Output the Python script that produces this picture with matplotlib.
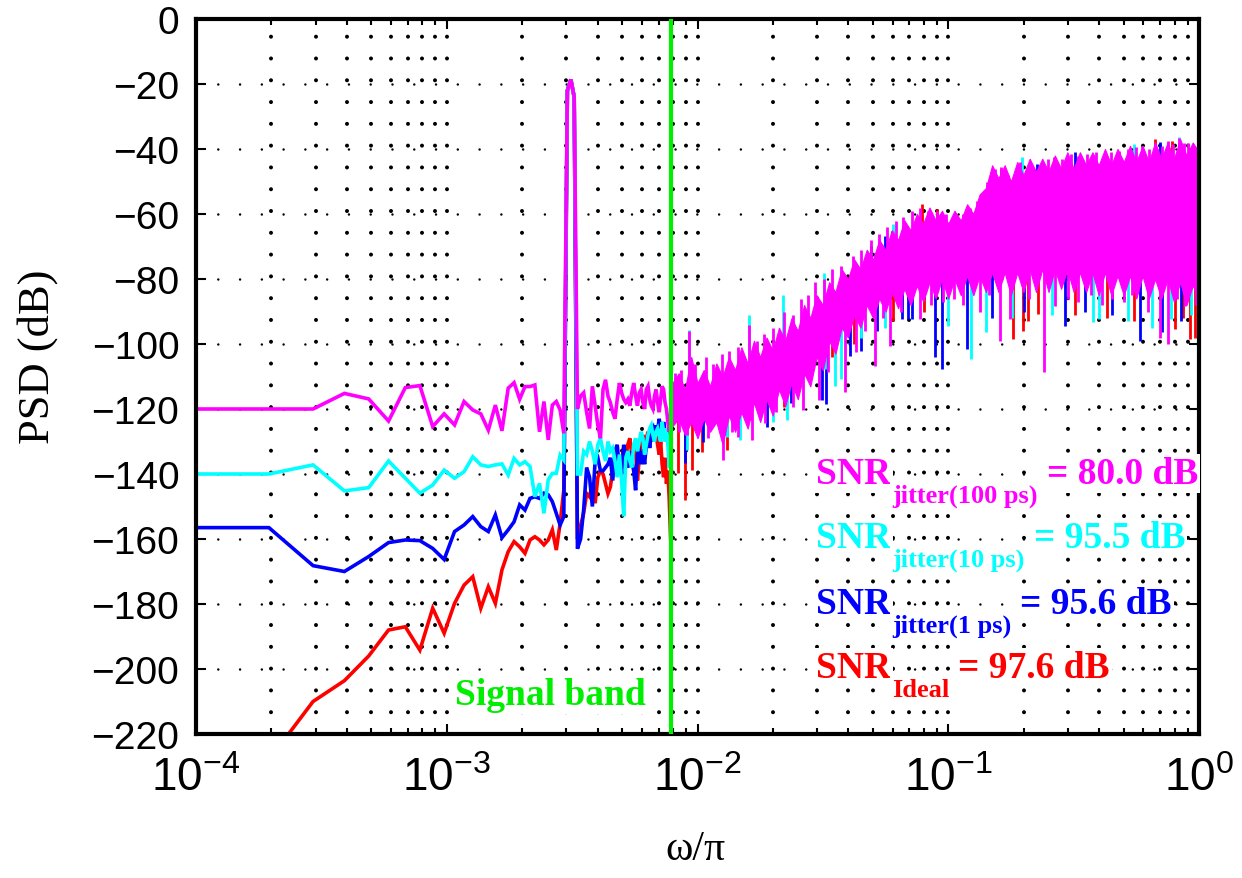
import numpy as np
import matplotlib
matplotlib.use("Agg")
import matplotlib.pyplot as plt
from matplotlib.ticker import LogLocator, FixedLocator, NullFormatter

# ---------------- data ----------------
N_BINS = 10240                      # omega/pi resolution of the FFT grid
k_low = np.arange(1, 81)
freq_low = k_low / N_BINS           # bins up to the signal band edge

psd_100ps_low = [-120, -120, -120, -115.2, -116.9, -123.7, -113.4, -112.8, -125.4, -121.5,
                 -124.9, -117.7, -120.3, -121.5, -126.5, -118.8, -126.7, -113.6, -111.9, -117.0,
                 -113.1, -113.1, -112.6, -127.0, -117.7, -129.5, -118.8, -117.7, -120.3, -127.5,
                 -22, -18.6, -24, -120, -116, -115, -121, -126, -113, -119,
                 -125, -129, -114, -111, -116, -118, -121, -123, -117, -112,
                 -115, -117, -118, -117, -119, -115, -112, -116, -119, -115,
                 -114, -118, -120, -114, -113, -117, -119, -120, -116, -114,
                 -118, -121, -117, -113, -114, -118, -120, -124, -127, -122]
psd_10ps_low = [-140, -140, -137.2, -145.2, -144.2, -136.0, -141.3, -145.9, -143.4, -138.8,
                -141.3, -139.3, -134.7, -137.2, -137.7, -137.2, -136.9, -140.3, -135.2, -137.2,
                -136.2, -137.7, -147.0, -142.9, -152.1, -141.8, -139.8, -139.8, -134.2, -135.7,
                -22, -18.6, -24, -140, -140, -133, -134, -130, -133, -137,
                -131, -129, -133, -136, -130, -133, -132, -136, -141, -134,
                -142, -153, -135, -133, -136, -138, -131, -129, -133, -130,
                -127, -129, -134, -131, -128, -126, -125, -128, -130, -127,
                -126, -128, -130, -124, -127, -130, -126, -131, -138, -128]
psd_1ps_low = [-156.5, -156.5, -168.2, -170.0, -165.4, -161.1, -160.3, -160.5, -162.9, -166.3,
               -157.7, -155.7, -153.1, -156.2, -157.7, -152.6, -159.6, -157.2, -154.7, -149.5,
               -151.1, -147.5, -147.0, -147.5, -145.9, -146.4, -148.5, -152.1, -155.7, -153.1,
               -22, -18.6, -24, -163, -160, -151, -138, -141, -150, -136,
               -135, -139, -139, -138, -137, -135, -142, -133, -131, -139,
               -140, -131, -135, -138, -133, -136, -139, -145, -134, -133,
               -137, -133, -137, -131, -128, -132, -127, -126, -130, -125,
               -127, -123, -126, -129, -124, -127, -126, -129, -132, -128]
psd_ideal_low = [-236, -228, -210.0, -203.6, -196.0, -188.0, -187.0, -194.2, -181.3, -189.0,
                 -179.8, -174.2, -171.6, -181.3, -174.7, -179.8, -169.5, -163.9, -160.8, -162.4,
                 -164.4, -160.3, -159.3, -160.3, -161.8, -160.3, -157.2, -163.4, -155.2, -144.9,
                 -22, -18.6, -24, -160, -156, -152, -146, -147, -143, -149,
                 -141, -139, -140, -143, -146, -144, -139, -137, -134, -138,
                 -136, -132, -135, -131, -129, -134, -131, -133, -142, -135,
                 -130, -128, -131, -129, -127, -131, -129, -127, -130, -128,
                 -131, -134, -130, -137, -141, -135, -143, -139, -148, -160]

# dense out-of-band noise: overlapping traces (jagged band) + individual spikes
band_freq = [0.0078, 0.00841, 0.00891, 0.00944, 0.0100, 0.01059, 0.01122, 0.01189, 0.01259, 0.01334,
             0.01413, 0.01496, 0.01585, 0.01679, 0.01778, 0.01884, 0.01995, 0.02113, 0.02239, 0.02371,
             0.02512, 0.02661, 0.02818, 0.02985, 0.03162, 0.03350, 0.03548, 0.03758, 0.03981, 0.04217,
             0.04467, 0.04732, 0.05012, 0.05309, 0.05623, 0.05957, 0.06310, 0.06683, 0.07079, 0.07499,
             0.07943, 0.08414, 0.08913, 0.09441, 0.1000, 0.1059, 0.1122, 0.1189, 0.1259, 0.1334,
             0.1413, 0.1496, 0.1585, 0.1679, 0.1778, 0.1884, 0.1995, 0.2113, 0.2239, 0.2371,
             0.2512, 0.2661, 0.2818, 0.2985, 0.3162, 0.3350, 0.3548, 0.3758, 0.3981, 0.4217,
             0.4467, 0.4732, 0.5012, 0.5309, 0.5623, 0.5957, 0.6310, 0.6683, 0.7079, 0.7499,
             0.7943, 0.8414, 0.8913, 0.9441, 1.0]
band_upper = [-113, -109, -114, -104, -112, -108, -113, -106, -110, -104,
              -108, -101, -106, -99, -104, -98, -102, -95, -99, -92,
              -96, -88, -92, -85, -88, -81, -84, -77, -80, -74,
              -77, -71, -74, -68, -71, -65, -68, -62, -65, -60,
              -63, -58, -62, -59, -63, -59, -62, -57, -60, -54,
              -52, -45, -49, -45, -50, -44, -48, -43, -47, -43,
              -47, -42, -46, -41, -46, -41, -45, -41, -45, -40,
              -45, -40, -44, -39, -44, -39, -44, -38, -43, -38,
              -43, -37, -42, -38, -41]
band_lower = [-126, -123, -128, -124, -129, -123, -127, -124, -131, -122,
              -127, -121, -126, -118, -124, -117, -122, -114, -119, -112,
              -117, -109, -113, -104, -108, -99, -103, -95, -98, -91,
              -95, -88, -92, -86, -90, -84, -89, -83, -88, -82,
              -87, -81, -86, -80, -86, -80, -85, -79, -85, -79,
              -84, -78, -84, -78, -85, -78, -84, -77, -84, -77,
              -84, -77, -83, -77, -84, -78, -84, -78, -85, -78,
              -85, -79, -85, -79, -86, -79, -86, -80, -86, -80,
              -87, -81, -88, -82, -86]

up_freq_100ps = [0.0081, 0.0086, 0.00925, 0.0098, 0.0108, 0.0115, 0.0125, 0.0134, 0.0145, 0.0161,
                 0.0172, 0.0185, 0.0200, 0.0221, 0.0240, 0.0258, 0.0275, 0.0294, 0.0320, 0.0345,
                 0.0372, 0.0418, 0.0450, 0.0490, 0.0530, 0.0570, 0.0620, 0.0660, 0.0720, 0.0772,
                 0.0830, 0.0900, 0.0980, 0.1050, 0.1140, 0.1220, 0.1300, 0.1430, 0.1530, 0.1630,
                 0.1730, 0.1840, 0.1940, 0.2070, 0.2190, 0.2350, 0.2500, 0.2640, 0.2850, 0.3080,
                 0.3300, 0.3590, 0.3900, 0.4200, 0.4460, 0.4800, 0.5200, 0.5600, 0.5900, 0.6300,
                 0.6650, 0.7100, 0.7500, 0.7900, 0.8300, 0.8700, 0.9050, 0.9500, 0.9900]
up_tip_100ps = [-109, -108, -96, -106, -104, -106, -103, -102, -101, -94,
                -99, -97, -95, -90, -91, -86, -85, -81, -80, -77,
                -76, -73, -71, -68, -66, -64, -62, -61, -59, -58,
                -59, -59, -60, -61, -60, -58, -56, -50, -46, -45.5,
                -48, -50, -44, -47, -46, -45, -43, -42.5, -43, -41.5,
                -42, -41.5, -41, -42, -41, -40.5, -40, -39.5, -39, -40,
                -38.5, -39, -37.5, -38.5, -36.7, -38, -38, -39, -39.5]
dn_freq_100ps = [0.0084, 0.0091, 0.0100, 0.0110, 0.01266, 0.0137, 0.01455, 0.01652, 0.0178, 0.0186,
                 0.0205, 0.0241, 0.0264, 0.0306, 0.0330, 0.0347, 0.0389, 0.0429, 0.0465, 0.0512,
                 0.0550, 0.0588, 0.0650, 0.0772, 0.0850, 0.0950, 0.1050, 0.1150, 0.134, 0.1450,
                 0.161, 0.176, 0.2100, 0.240, 0.266, 0.3000, 0.3300, 0.3700, 0.4100, 0.4500,
                 0.5000, 0.5400, 0.628, 0.700, 0.755, 0.8200, 0.88, 0.97]
dn_tip_100ps = [-127, -128, -127, -129, -135.7, -127, -128.5, -129.6, -123, -124.4,
                -121, -119.3, -120.3, -117.3, -108.7, -98.5, -114.9, -102.6, -96, -106.7,
                -92, -100.5, -90, -92.3, -88, -87, -86, -88, -90.3, -85,
                -99, -92.3, -86, -108.7, -88.2, -86, -87, -85, -88, -86,
                -87, -85, -90.3, -98, -100, -86, -88.2, -88]

up_freq_10ps = [0.00925, 0.0161, 0.0219, 0.032, 0.060, 0.196, 0.55, 0.83]
up_tip_10ps = [-95.7, -91, -85, -78, -63, -42.6, -38.5, -36.4]
dn_freq_10ps = [0.00911, 0.0131, 0.0148, 0.0200, 0.0228, 0.0322, 0.0353, 0.0374, 0.0450, 0.0560,
                0.0999, 0.123, 0.141, 0.180, 0.260, 0.379, 0.40, 0.520, 0.650, 0.77, 0.93]
dn_tip_10ps = [-132.6, -128.5, -129.6, -124, -123.4, -107.7, -112.8, -110.8, -98, -95,
               -94.4, -104.6, -96.4, -92, -91, -93.3, -92.3, -93, -95, -92.3, -91]

up_freq_1ps = [0.049, 0.0558, 0.225, 0.32, 0.70]
up_tip_1ps = [-69.7, -66.7, -44.6, -41, -37.8]
dn_freq_1ps = [0.00895, 0.0105, 0.0130, 0.01897, 0.0237, 0.0313, 0.0325, 0.0405, 0.0449, 0.0520,
               0.0652, 0.069, 0.072, 0.0887, 0.0944, 0.1187, 0.150, 0.200, 0.292, 0.350,
               0.450, 0.582, 0.712, 0.850]
dn_tip_1ps = [-136.7, -130, -128, -125.5, -118.3, -117.3, -118.5, -103.6, -102, -96,
              -92.3, -92.3, -92.3, -104.1, -107.7, -101.5, -92, -90, -94.4, -90,
              -91, -99, -96.4, -93]

up_freq_ideal = [0.0785, 0.09, 0.163, 0.665, 0.78]
up_tip_ideal = [-57, -58.5, -46, -37, -37.5]
dn_freq_ideal = [0.00839, 0.00895, 0.0095, 0.0104, 0.0131, 0.0163, 0.0221, 0.0343, 0.0420, 0.0600,
                 0.0800, 0.182, 0.199, 0.208, 0.228, 0.320, 0.430, 0.550, 0.80, 0.86,
                 0.92, 0.96]
dn_tip_ideal = [-139.8, -148, -138.8, -133.1, -132.6, -123.4, -119.3, -104.1, -100, -93,
                -90, -98.5, -95.9, -92.8, -90.8, -91, -92, -93, -95.4, -92,
                -98.5, -98]

signal_band_edge = 1 / 128

snr_subscripts = ["jitter(100 ps)", "jitter(10 ps)", "jitter(1 ps)", "Ideal"]
snr_values = [80.0, 95.5, 95.6, 97.6]

# ---------------- style ----------------
C_MAG, C_CYAN, C_BLUE, C_RED = "#ff00ff", "#00ffff", "#0000ff", "#ff0000"
C_GREEN = "#00ee00"
W, H = 1242, 879

plt.rcParams["font.family"] = ["Liberation Sans", "DejaVu Sans"]

fig = plt.figure(figsize=(W / 100, H / 100), dpi=100)
ax = fig.add_axes([196 / W, 144 / H, 1003 / W, 715 / H])

lw = 2.6
lb = np.log10(band_freq)


def draw_series(psd_low, upf, upt, dnf, dnt, color, z, band=False):
    ax.plot(freq_low, psd_low, color=color, lw=lw, zorder=z, solid_joinstyle="miter")
    base_dn = np.interp(np.log10(dnf), lb, band_lower) + 3
    ax.vlines(dnf, dnt, base_dn, color=color, lw=2.0, zorder=z)
    if band:
        ax.fill_between(band_freq, band_lower, band_upper, color=color, lw=0.8,
                        edgecolor=color, zorder=z + 0.01)
    base_up = np.interp(np.log10(upf), lb, band_upper) - 3
    ax.vlines(upf, base_up, upt, color=color, lw=2.0, zorder=z + 0.02)


draw_series(psd_ideal_low, up_freq_ideal, up_tip_ideal, dn_freq_ideal, dn_tip_ideal, C_RED, 2.0)
draw_series(psd_1ps_low, up_freq_1ps, up_tip_1ps, dn_freq_1ps, dn_tip_1ps, C_BLUE, 2.1)
draw_series(psd_10ps_low, up_freq_10ps, up_tip_10ps, dn_freq_10ps, dn_tip_10ps, C_CYAN, 2.2)
draw_series(psd_100ps_low, up_freq_100ps, up_tip_100ps, dn_freq_100ps, dn_tip_100ps, C_MAG, 2.3,
            band=True)

ax.axvline(signal_band_edge, color=C_GREEN, lw=3.0, zorder=3)

ax.set_xscale("log")
ax.set_xlim(1e-4, 1)
ax.set_ylim(-220, 0)
ax.yaxis.set_major_locator(FixedLocator(np.arange(-220, 1, 20)))
ax.xaxis.set_major_locator(LogLocator(base=10, numticks=10))
ax.xaxis.set_minor_locator(LogLocator(base=10, subs=np.arange(2, 10), numticks=20))
ax.xaxis.set_minor_formatter(NullFormatter())

ax.set_axisbelow(True)
ax.grid(True, which="both", axis="x", color="k", linestyle=(0, (0.01, 5.4)),
        linewidth=2.9, dash_capstyle="round")
ax.grid(True, which="major", axis="y", color="k", linestyle=(0, (0.01, 8.7)),
        linewidth=1.8, dash_capstyle="round")

for s in ax.spines.values():
    s.set_linewidth(3.0)
ax.tick_params(which="both", direction="in", top=True, right=True, width=1.5)
ax.tick_params(which="major", length=7)
ax.tick_params(which="minor", length=4)
ax.tick_params(axis="y", labelsize=28, pad=12)
ax.tick_params(axis="x", which="major", labelsize=33, pad=16)

serif = ["Liberation Serif", "DejaVu Serif"]
fig.text(38 / W, 1 - 357 / H, "PSD (dB)", rotation=90, ha="center", va="center",
         fontsize=32, family=serif)
fig.text(695 / W, 1 - 850 / H, "ω/π", ha="center", va="center", fontsize=30, family=serif)

# SNR annotations: main text, lowered subscript, then value
box = dict(facecolor="white", edgecolor="none", pad=1.5)
renderer = fig.canvas.get_renderer()
colors = [C_MAG, C_CYAN, C_BLUE, C_RED]
baselines = [484, 548, 614, 678]
x_start = 816


def put(xp, yp, s, size, color):
    t = fig.text(xp / W, 1 - yp / H, s, fontsize=size, color=color, family=serif,
                 weight="bold", ha="left", va="baseline", bbox=box, zorder=5)
    return t.get_window_extent(renderer).width


for sub, val, c, yb in zip(snr_subscripts, snr_values, colors, baselines):
    w1 = put(x_start, yb, "SNR", 27, c)
    xs = x_start + w1 + 1
    w2 = put(xs, yb + 19, sub, 19, c)
    put(xs + w2 + 9, yb, "= %.1f dB" % val, 27, c)

fig.text(455 / W, 1 - 705 / H, "Signal band", color=C_GREEN, fontsize=27, family=serif,
         weight="bold", ha="left", va="baseline", bbox=box, zorder=5)

fig.savefig("out.png", dpi=100)
